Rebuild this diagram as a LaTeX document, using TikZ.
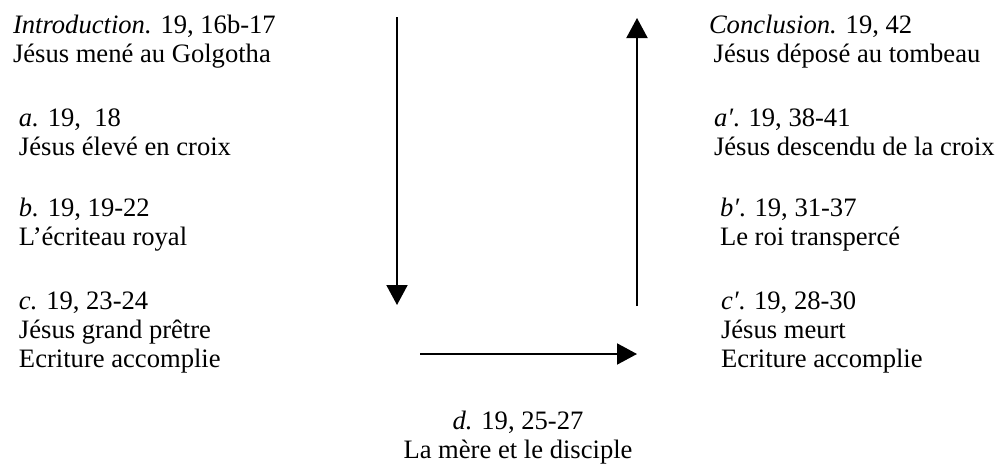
\documentclass[tikz,border=0pt]{standalone}
\usepackage{fontspec}
\setmainfont{Liberation Serif}
\usetikzlibrary{arrows.meta,positioning}

\begin{document}
\begin{tikzpicture}[x=1pt,y=-1pt,-{Triangle[length=20pt,width=21pt]},line width=2pt,
    every node/.style={inner sep=0pt,align=left,anchor=base west,font=\fontsize{26.6}{29}\selectfont}]

    \useasboundingbox (0,0) rectangle (997,466);

    % left column (placed at the baseline of the last line)
    \node (intro) at (12,62.5) {{\itshape Introduction.} 19, 16b-17\\Jésus mené au Golgotha};
    \node (a) at (18,155) {{\itshape a.} 19,\ \ 18\\Jésus élevé en croix};
    \node (b) at (18,245.7) {{\itshape b.} 19, 19-22\\L'écriteau royal};
    \node (c) at (18,367) {{\itshape c.} 19, 23-24\\Jésus grand prêtre\\Ecriture accomplie};

    % right column
    \node (concl) at (708,62.5) {{\itshape Conclusion.} 19, 42\\\hspace*{4.7pt}Jésus déposé au tombeau};
    \node (ap) at (713,155) {{\itshape a′}. 19, 38-41\\Jésus descendu de la croix};
    \node (bp) at (719,245.7) {{\itshape b′}. 19, 31-37\\Le roi transpercé};
    \node (cp) at (720,367) {{\itshape c′}. 19, 28-30\\Jésus meurt\\Ecriture accomplie};

    % centre
    \node[align=center,anchor=base] (d) at (518,458) {{\itshape d.} 19, 25-27\\La mère et le disciple};

    \coordinate (down1) at (397,17);
    \coordinate (down2) at (397,305);
    \coordinate (over1) at (420,354);
    \coordinate (over2) at (637,354);
    \coordinate (up1) at (637,306);
    \coordinate (up2) at (637,18);

	\draw[] (down1) to (down2);
	\draw[] (over1) to (over2);
	\draw[] (up1) to (up2);
\end{tikzpicture}
\end{document}
